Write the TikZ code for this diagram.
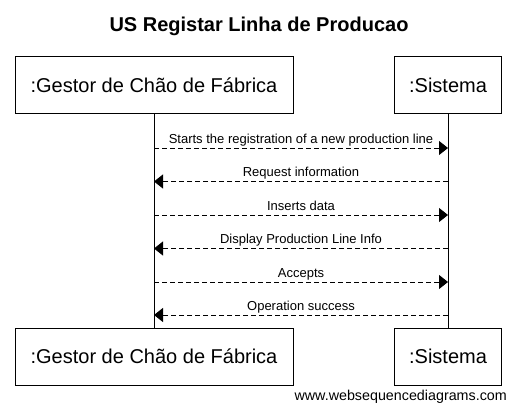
\documentclass[tikz,border=0pt]{standalone}
\usepackage{fontspec}
\setmainfont{Liberation Sans}
\usetikzlibrary{arrows.meta}
\tikzset{
  actorbox/.style={draw, line width=1pt, minimum height=57pt, inner sep=0pt, font=\fontsize{20}{24}\selectfont},
  lifeline/.style={line width=1pt},
  msg/.style={line width=0.9pt, dash pattern=on 5pt off 3pt, -{Triangle[length=9pt,width=14pt]}},
  msglabel/.style={anchor=base, yshift=5pt, inner sep=0pt, font=\fontsize{13}{15}\selectfont}
}
\begin{document}
\begin{tikzpicture}[x=1pt,y=-1pt]
\useasboundingbox (0,0) rectangle (516,409);
\node[font=\fontsize{20}{24}\selectfont\bfseries, anchor=base, inner sep=0pt] (title) at (259,32) {US Registar Linha de Producao};
\node[actorbox, minimum width=278pt] (gT) at (154,85.5) {:Gestor de Chão de Fábrica};
\node[actorbox, minimum width=107pt] (sT) at (448,85.5) {:Sistema};
\node[actorbox, minimum width=278pt] (gB) at (154,356.5) {:Gestor de Chão de Fábrica};
\node[actorbox, minimum width=107pt] (sB) at (448,356.5) {:Sistema};
\draw[lifeline] (gT.south) -- (gB.north);
\draw[lifeline] (sT.south) -- (sB.north);
\coordinate (L) at (154,0);
\coordinate (R) at (448,0);
\draw[msg] (L |- 0,148) -- (R |- 0,148) node[msglabel, midway] {Starts the registration of a new production line};
\draw[msg] (R |- 0,181.5) -- (L |- 0,181.5) node[msglabel, midway] {Request information};
\draw[msg] (L |- 0,215) -- (R |- 0,215) node[msglabel, midway] {Inserts data};
\draw[msg] (R |- 0,248.5) -- (L |- 0,248.5) node[msglabel, midway] {Display Production Line Info};
\draw[msg] (L |- 0,282) -- (R |- 0,282) node[msglabel, midway] {Accepts};
\draw[msg] (R |- 0,315) -- (L |- 0,315) node[msglabel, midway] {Operation success};
\node[anchor=base east, inner sep=0pt, font=\fontsize{14.3}{16}\selectfont] (footer) at (507,400) {www.websequencediagrams.com};
\end{tikzpicture}
\end{document}
